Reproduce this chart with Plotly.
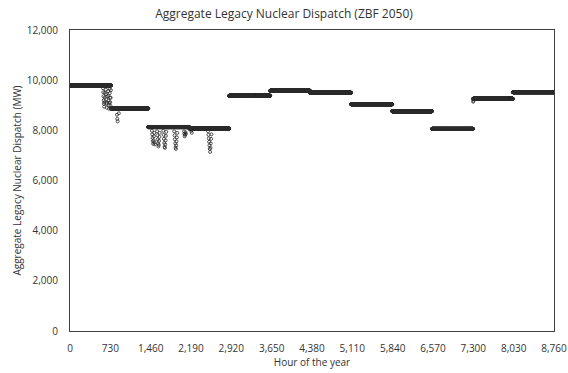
import plotly.graph_objects as go

# Month structure of the year (hours per month) and plateau dispatch level (MW)
month_hours = [744, 672, 744, 720, 744, 720, 744, 744, 720, 744, 720, 744]
month_levels = [9790, 8870, 8130, 8070, 9380, 9580, 9500, 9040, 8760, 8060, 9260, 9520]

# Hours where dispatch dips below the monthly plateau
dip_hours = [
    598, 602, 606, 610, 614, 618, 622, 626, 630,
    648, 652, 656, 660, 664, 668, 672,
    690, 694, 698, 702, 706, 710,
    716, 720, 724, 728, 732, 736, 740,
    850, 856, 862, 884,
    1482, 1488, 1494, 1500, 1506, 1512, 1518, 1524, 1530, 1536,
    1576, 1582, 1588, 1594, 1600, 1606, 1612, 1618, 1624,
    1688, 1694, 1700, 1706, 1712, 1718, 1724, 1730, 1736, 1742,
    1886, 1892, 1898, 1904, 1910, 1916, 1922, 1928, 1934, 1940,
    2064, 2070, 2076, 2082, 2090, 2098,
    2196, 2204,
    2500, 2506, 2512, 2518, 2524, 2530, 2536, 2542, 2548, 2554, 2560,
    7298, 7300,
]
dip_values = [
    9680, 9520, 9360, 9200, 9060, 8940, 9120, 9300, 9500,
    9620, 9440, 9240, 9060, 8900, 9100, 9350,
    9560, 9380, 9180, 9000, 8860, 9100,
    9650, 9480, 9300, 9120, 8980, 9300, 9600,
    8620, 8460, 8360, 8680,
    7980, 7840, 7700, 7560, 7460, 7600, 7760, 7900, 7520, 7440,
    7960, 7800, 7640, 7480, 7360, 7420, 7580, 7740, 7900,
    7980, 7820, 7660, 7500, 7340, 7300, 7440, 7600, 7780, 7940,
    7960, 7800, 7640, 7480, 7320, 7260, 7400, 7560, 7720, 7900,
    7960, 7860, 7760, 7820, 7920, 7860,
    7980, 7900,
    7960, 7820, 7680, 7540, 7400, 7260, 7140, 7300, 7480, 7660, 7840,
    9140, 9180,
]

# Assemble hourly series from monthly plateaus, then apply the dips
hours = []
values = []
h = 0
for n, lvl in zip(month_hours, month_levels):
    for _ in range(n):
        hours.append(h)
        values.append(lvl)
        h += 1
for dh, dv in zip(dip_hours, dip_values):
    values[dh] = dv

x_ticks = [0, 730, 1460, 2190, 2920, 3650, 4380, 5110, 5840, 6570, 7300, 8030, 8760]
x_tick_text = ["0", "730", "1,460", "2,190", "2,920", "3,650", "4,380", "5,110",
               "5,840", "6,570", "7,300", "8,030", "8,760"]
y_ticks = [0, 2000, 4000, 6000, 8000, 10000, 12000]
y_tick_text = ["0", "2,000", "4,000", "6,000", "8,000", "10,000", "12,000"]

fig = go.Figure(go.Scatter(
    x=hours, y=values, mode="markers",
    marker=dict(symbol="circle-open", size=3, color="#2a2a2a", line=dict(width=0.8)),
    hoverinfo="skip",
))

font_family = "Open Sans, Noto Sans, sans-serif"
text_color = "#333333"
fig.update_layout(
    width=568, height=373,
    margin=dict(l=70, r=14, t=30, b=42, autoexpand=False),
    paper_bgcolor="white", plot_bgcolor="white",
    showlegend=False,
    font=dict(family=font_family, size=10, color=text_color),
    title=dict(text="Aggregate Legacy Nuclear Dispatch (ZBF 2050)",
               x=0.5, xanchor="center", y=0.975, yanchor="top",
               font=dict(size=12, color=text_color)),
)
fig.update_xaxes(
    range=[0, 8760], tickvals=x_ticks, ticktext=x_tick_text,
    showgrid=False, zeroline=False, showline=True, mirror=True,
    linecolor="#404040", linewidth=1, ticks="", automargin=False,
    ticklabelstandoff=8,
    title=dict(text="Hour of the year", font=dict(size=10, color=text_color), standoff=2),
    tickfont=dict(size=10, color=text_color),
)
fig.update_yaxes(
    range=[0, 12000], tickvals=y_ticks, ticktext=y_tick_text,
    showgrid=False, zeroline=False, showline=True, mirror=True,
    linecolor="#404040", linewidth=1, ticks="", automargin=False,
    ticklabelstandoff=9,
    title=dict(text="Aggregate Legacy Nuclear Dispatch (MW)", font=dict(size=10, color=text_color), standoff=3),
    tickfont=dict(size=10, color=text_color),
)

fig.write_html("out.html")
